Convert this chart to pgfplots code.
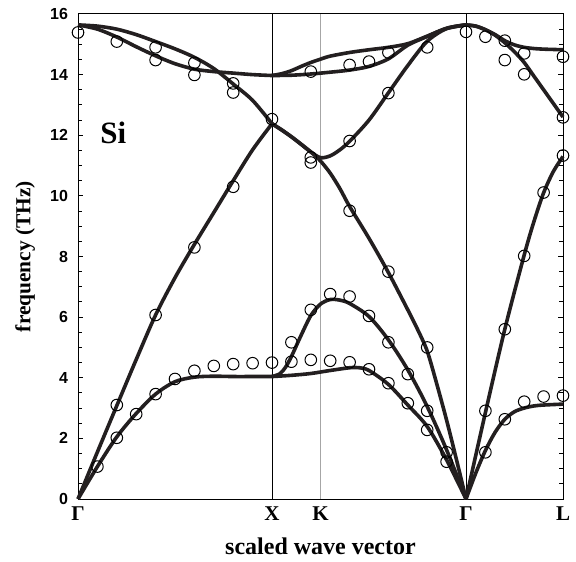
\documentclass[border=0pt]{standalone}
\usepackage{fontspec}
\setmainfont{Liberation Serif}
\setsansfont{Liberation Sans}
\usepackage{pgfplots}
\pgfplotsset{compat=1.18}
\definecolor{curve}{HTML}{231F20}
\begin{document}
\begin{tikzpicture}
\useasboundingbox (-39pt,-31pt) rectangle (249pt,249.5pt);
\begin{axis}[
  scale only axis, width=242.5pt, height=242.5pt,
  xmin=0, xmax=2.5, ymin=0, ymax=16,
  clip=false,
  axis line style={line width=0.5pt},
  xtick={0,1,1.25,2,2.5},
  xticklabels={Γ,X,K,Γ,L},
  xtick style={draw=none},
  xticklabel style={font=\bfseries\fontsize{10.5}{12}\selectfont, yshift=-0.5pt},
  ytick={0,2,...,16}, minor y tick num=3,
  ytick pos=both, yticklabel pos=left,
  tick align=inside,
  major tick length=2.6pt, minor tick length=2.2pt,
  ytick style={line width=0.5pt, black},
  /pgf/number format/assume math mode=true,
  yticklabel style={font=\sffamily\bfseries\fontsize{8}{9}\selectfont, xshift=-1.5pt},
  xlabel={scaled wave vector},
  ylabel={frequency (THz)},
  xlabel style={font=\bfseries\fontsize{12}{14}\selectfont, at={(axis description cs:0.5,-0.097)}, anchor=center},
  ylabel style={font=\bfseries\fontsize{10.7}{12}\selectfont, at={(axis description cs:-0.109,0.5)}, anchor=center},
  curv/.style={line width=1.8pt, color=curve, smooth},
  dat/.style={only marks, mark=o, mark size=2.9pt, mark options={line width=0.5pt, black}},
]
% vertical lines
\addplot[black, line width=0.45pt] coordinates {(1,0) (1,16)};
\addplot[gray!70, line width=0.5pt] coordinates {(1.25,0) (1.25,16)};
\addplot[black, line width=0.45pt] coordinates {(2,0) (2,16)};

% ---- Gamma - X ----
% LO
\addplot[curv] coordinates {(0,15.64) (0.1,15.6) (0.2,15.5) (0.3,15.32) (0.4,15.09) (0.5,14.85) (0.6,14.57) (0.7,14.2) (0.8,13.69) (0.9,13.15) (1.0,12.38)};
% TO
\addplot[curv] coordinates {(0,15.64) (0.1,15.5) (0.2,15.24) (0.3,14.92) (0.4,14.62) (0.5,14.36) (0.6,14.18) (0.7,14.1) (0.8,14.05) (0.9,14.0) (1.0,13.97)};
% LA
\addplot[curv] coordinates {(0,0) (0.1,1.55) (0.2,3.08) (0.3,4.6) (0.4,6.07) (0.5,7.3) (0.6,8.4) (0.7,9.45) (0.8,10.5) (0.9,11.52) (1.0,12.38)};
% TA
\addplot[curv] coordinates {(0,0) (0.1,1.07) (0.2,2.05) (0.3,2.82) (0.4,3.46) (0.5,3.87) (0.6,4.02) (0.7,4.05) (0.8,4.04) (0.9,4.04) (1.0,4.04)};

% ---- X - K - Gamma ----
% TO lower
\addplot[curv] coordinates {(1.0,13.97) (1.1,13.98) (1.2,14.02) (1.3,14.08) (1.4,14.15) (1.5,14.27) (1.6,14.52) (1.7,14.97) (1.8,15.26) (1.9,15.52) (2.0,15.64)};
% TO upper
\addplot[curv] coordinates {(1.0,13.97) (1.05,14.03) (1.1,14.13) (1.15,14.27) (1.2,14.4) (1.25,14.51) (1.3,14.61) (1.4,14.73) (1.5,14.82) (1.6,14.9) (1.7,15.02) (1.8,15.27) (1.9,15.53) (2.0,15.64)};
% LO
\addplot[curv] coordinates {(1.0,12.38) (1.05,12.18) (1.1,11.95) (1.15,11.7) (1.2,11.45) (1.25,11.26) (1.3,11.32) (1.35,11.52) (1.4,11.8) (1.5,12.5) (1.6,13.4) (1.7,14.3) (1.8,15.1) (1.9,15.52) (2.0,15.64)};
% LA
\addplot[curv] coordinates {(1.0,12.38) (1.1,11.95) (1.2,11.45) (1.25,11.15) (1.3,10.75) (1.35,10.24) (1.4,9.65) (1.5,8.6) (1.6,7.47) (1.7,6.24) (1.75,5.6) (1.8,4.88) (1.85,3.78) (1.9,2.6) (1.95,1.32) (2.0,0)};
% TA2
\addplot[curv] coordinates {(1.0,4.04) (1.04,4.13) (1.07,4.35) (1.1,4.7) (1.15,5.4) (1.2,6.05) (1.25,6.43) (1.3,6.58) (1.35,6.56) (1.4,6.45) (1.5,6.02) (1.6,5.25) (1.7,4.26) (1.8,3.05) (1.9,1.62) (2.0,0)};
% TA1
\addplot[curv] coordinates {(1.0,4.04) (1.1,4.08) (1.2,4.14) (1.3,4.24) (1.4,4.33) (1.45,4.33) (1.5,4.24) (1.6,3.78) (1.7,3.1) (1.8,2.39) (1.9,1.29) (2.0,0)};

% ---- Gamma - L ----
% TO
\addplot[curv] coordinates {(2.0,15.64) (2.05,15.6) (2.1,15.48) (2.15,15.32) (2.2,15.12) (2.25,14.98) (2.3,14.9) (2.35,14.86) (2.4,14.84) (2.45,14.83) (2.5,14.82)};
% LO
\addplot[curv] coordinates {(2.0,15.64) (2.05,15.6) (2.1,15.48) (2.15,15.3) (2.2,15.05) (2.25,14.75) (2.3,14.4) (2.35,13.95) (2.4,13.5) (2.45,13.05) (2.5,12.6)};
% LA
\addplot[curv] coordinates {(2.0,0) (2.1,2.85) (2.2,5.6) (2.3,8.05) (2.35,9.15) (2.4,10.1) (2.45,10.8) (2.5,11.3)};
% TA
\addplot[curv] coordinates {(2.0,0) (2.05,0.85) (2.1,1.6) (2.15,2.2) (2.2,2.63) (2.25,2.88) (2.3,3.0) (2.35,3.07) (2.4,3.1) (2.5,3.13)};

% ---- experimental points ----
\addplot[dat] coordinates {
(0,15.39) (0.2,15.09) (0.4,14.9) (0.4,14.48) (0.6,14.39) (0.6,13.99) (0.8,13.71) (0.8,13.41) (1.0,12.53)
(0.2,3.10) (0.4,6.07) (0.6,8.30) (0.8,10.30)
(0.1,1.07) (0.2,2.02) (0.3,2.80) (0.4,3.46) (0.5,3.96) (0.6,4.23) (0.7,4.39) (0.8,4.45) (0.9,4.48) (1.0,4.50)
(1.1,5.17) (1.1,4.53) (1.2,6.24) (1.2,4.59) (1.3,6.76) (1.3,4.56) (1.4,6.68) (1.4,4.51) (1.5,6.04) (1.5,4.28)
(1.6,5.17) (1.6,3.82) (1.7,4.12) (1.7,3.16) (1.8,5.0) (1.8,2.91) (1.8,2.28) (1.9,1.54) (1.9,1.23)
(1.2,11.27) (1.2,11.1) (1.4,11.81) (1.4,9.51) (1.6,7.5) (1.6,13.39)
(1.2,14.1) (1.4,14.32) (1.5,14.43) (1.6,14.73) (1.8,14.9) (2.0,15.41)
(2.1,15.25) (2.2,15.12) (2.2,14.48) (2.3,14.70) (2.3,14.01) (2.5,14.59) (2.5,12.59)
(2.1,2.91) (2.1,1.54) (2.2,5.60) (2.2,2.63) (2.3,3.21) (2.4,3.38) (2.5,3.41)
(2.3,8.02) (2.4,10.11) (2.5,11.33)
};

\node[anchor=west, font=\bfseries\fontsize{15.5}{18}\selectfont, inner sep=0pt] at (axis cs:0.113,12.07) {Si};
\end{axis}
\end{tikzpicture}
\end{document}
